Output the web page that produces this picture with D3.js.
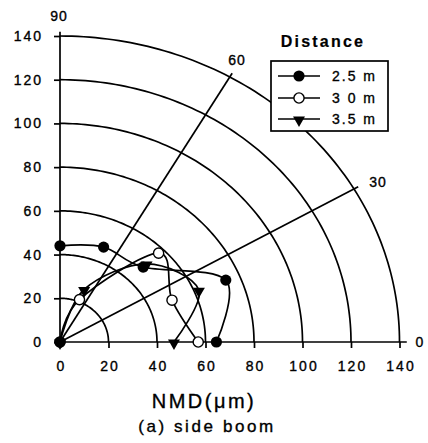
<!DOCTYPE html>
<html>
<head>
<meta charset="utf-8">
<script src="https://cdn.jsdelivr.net/npm/d3@7/dist/d3.min.js"></script>
<style>
  html, body { margin: 0; padding: 0; background: #fff; }
  svg { display: block; }
  text { font-family: "Liberation Sans", Arial, sans-serif; fill: #000; stroke: #000; stroke-width: 0.35px; }
</style>
</head>
<body>
<svg id="chart" width="428" height="443"></svg>
<script>
// Spray droplet NMD by measurement angle, side boom
const angles = [90, 67.5, 45, 22.5, 0];            // degrees
const dist25 = [44, 47, 48.5, 74, 64.5];           // NMD (µm) at 2.5 m
const dist30 = [0, 21, 57.5, 50, 57];              // NMD (µm) at 3.0 m
const dist35 = [0, 26, 50.5, 62, 47];              // NMD (µm) at 3.5 m
const centre25 = [0];                              // reading at the boom centre, 2.5 m
const rings = [20, 40, 60, 80, 100, 120, 140];
const tickValues = [0, 20, 40, 60, 80, 100, 120, 140];
const spokes = [30, 60];
const seriesNames = ["2.5 m", "3 0 m", "3.5 m"];

const svg = d3.select("#chart");
const x = d3.scaleLinear().domain([0, 140]).range([60, 399.5]);
const y = d3.scaleLinear().domain([0, 140]).range([342, 36]);
const rad = a => a * Math.PI / 180;
const px = (r, a) => x(r * Math.cos(rad(a)));
const py = (r, a) => y(r * Math.sin(rad(a)));
const SW = 1.7;

const g = svg.append("g");

// quarter rings
const ringLine = d3.line().x(d => d[0]).y(d => d[1]);
rings.forEach(r => {
  const pts = d3.range(0, 90.5, 1).map(a => [px(r, a), py(r, a)]);
  g.append("path").attr("d", ringLine(pts))
    .attr("fill", "none").attr("stroke", "#000").attr("stroke-width", SW);
});

// spokes
spokes.forEach(a => {
  g.append("line")
    .attr("x1", px(0, a)).attr("y1", py(0, a))
    .attr("x2", px(142, a)).attr("y2", py(142, a))
    .attr("stroke", "#000").attr("stroke-width", SW);
});

// axes lines
g.append("line").attr("x1", x(0)).attr("y1", y(0)).attr("x2", x(143)).attr("y2", y(0))
  .attr("stroke", "#000").attr("stroke-width", SW);
g.append("line").attr("x1", x(0)).attr("y1", y(0)).attr("x2", x(0)).attr("y2", y(142))
  .attr("stroke", "#000").attr("stroke-width", SW);

// tick marks and labels
const xAxis = g.append("g").attr("transform", `translate(0,${y(0)})`)
  .call(d3.axisBottom(x).tickValues(tickValues).tickSize(6).tickSizeOuter(0).tickPadding(13));
const yAxis = g.append("g").attr("transform", `translate(${x(0)},0)`)
  .call(d3.axisLeft(y).tickValues(tickValues).tickSize(6).tickSizeOuter(0).tickPadding(11));
[xAxis, yAxis].forEach(ax => {
  ax.select(".domain").remove();
  ax.selectAll(".tick line").attr("stroke", "#000").attr("stroke-width", SW);
  ax.selectAll(".tick text")
    .attr("font-family", "Liberation Sans, Arial, sans-serif")
    .attr("font-size", 14).style("letter-spacing", "2px").attr("fill", "#000");
});
xAxis.selectAll(".tick text").attr("dx", "1px");

// angle labels
const angleLabels = [
  { t: "90", x: 59, y: 21, anchor: "middle" },
  { t: "60", x: 237, y: 65, anchor: "middle" },
  { t: "30", x: 378, y: 187, anchor: "middle" },
  { t: "0", x: 420, y: 347, anchor: "middle" }
];
angleLabels.forEach(d => {
  svg.append("text").attr("x", d.x).attr("y", d.y).attr("text-anchor", d.anchor)
    .attr("font-size", 14).style("letter-spacing", "1px").text(d.t);
});

// series
const toPts = (vals) => vals.map((r, i) => ({ x: px(r, angles[i]), y: py(r, angles[i]) }));
const series = [
  { name: seriesNames[0], pts: toPts(dist25), type: "filled" },
  { name: seriesNames[1], pts: toPts(dist30), type: "open" },
  { name: seriesNames[2], pts: toPts(dist35), type: "tri" }
];
const curve = d3.line().x(d => d.x).y(d => d.y).curve(d3.curveCatmullRom.alpha(0));
series.forEach(s => {
  g.append("path").attr("d", curve(s.pts))
    .attr("fill", "none").attr("stroke", "#000").attr("stroke-width", SW);
});

const tri = d3.symbol().type(d3.symbolTriangle).size(62);
function marker(sel, type, cx, cy) {
  if (type === "filled") {
    sel.append("circle").attr("cx", cx).attr("cy", cy).attr("r", 5.6).attr("fill", "#000");
  } else if (type === "open") {
    sel.append("circle").attr("cx", cx).attr("cy", cy).attr("r", 5.1)
      .attr("fill", "#fff").attr("stroke", "#000").attr("stroke-width", 1.4);
  } else {
    sel.append("path").attr("d", tri())
      .attr("transform", `translate(${cx},${cy + 1}) rotate(180)`).attr("fill", "#000");
  }
}
const mk = g.append("g");
series[1].pts.forEach(p => marker(mk, "open", p.x, p.y));
series[0].pts.forEach(p => marker(mk, "filled", p.x, p.y));
centre25.forEach(r => marker(mk, "filled", px(r, 0), py(r, 0)));
series[2].pts.forEach(p => marker(mk, "tri", p.x, p.y));

// legend
svg.append("text").attr("x", 323).attr("y", 47).attr("text-anchor", "middle")
  .attr("font-size", 16).attr("font-weight", "bold").style("letter-spacing", "2.2px")
  .style("stroke-width", "0.2px").text("Distance");
const lg = svg.append("g");
lg.append("rect").attr("x", 271).attr("y", 61).attr("width", 117).attr("height", 70)
  .attr("fill", "#fff").attr("stroke", "#000").attr("stroke-width", SW);
const rowY = [76, 98, 119];
series.forEach((s, i) => {
  lg.append("line").attr("x1", 278).attr("x2", 320).attr("y1", rowY[i]).attr("y2", rowY[i])
    .attr("stroke", "#000").attr("stroke-width", SW);
  marker(lg, s.type, 299, rowY[i]);
  lg.append("text").attr("x", 332).attr("y", rowY[i] + 5).attr("font-size", 14)
    .style("letter-spacing", "2px").text(s.name);
});

// axis title and caption
svg.append("text").attr("x", 204).attr("y", 408).attr("text-anchor", "middle")
  .attr("font-size", 20).style("letter-spacing", "2.5px").text("NMD(μm)");
svg.append("text").attr("x", 207).attr("y", 432).attr("text-anchor", "middle")
  .attr("font-size", 17).style("letter-spacing", "2.6px").text("(a) side boom");
</script>
</body>
</html>
